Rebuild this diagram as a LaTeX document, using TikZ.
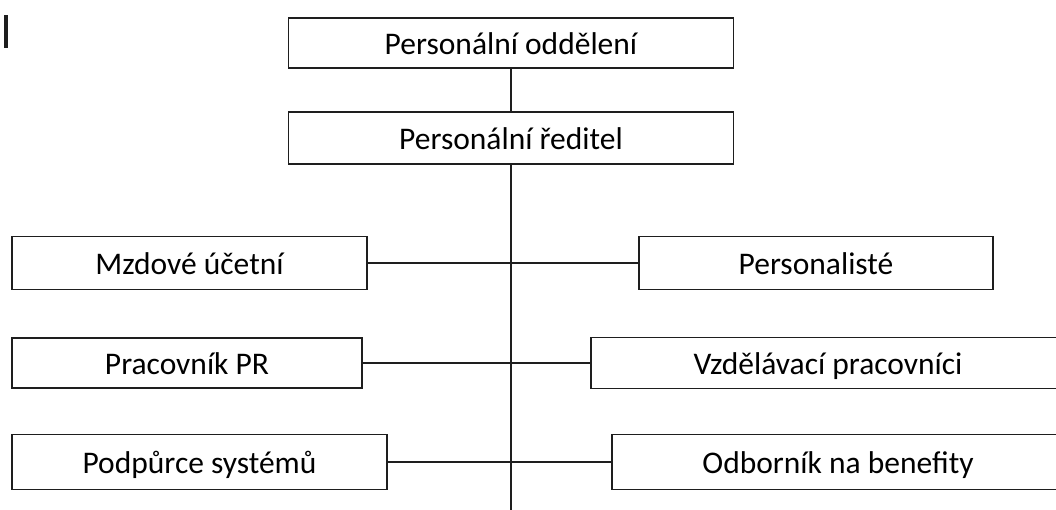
\documentclass[tikz,border=0pt]{standalone}
\usepackage{fontspec}
\setmainfont{Carlito}
\definecolor{frame}{HTML}{1e1e1e}

\begin{document}
\begin{tikzpicture}[x=1pt,y=-1pt,
	unit/.style={draw=frame,line width=1.5pt,inner sep=0pt,minimum height=52pt,
		text height=23pt,text depth=0pt,font=\fontsize{31.5}{36}\selectfont},
	link/.style={draw=frame,line width=1.2pt}]
		\clip (0,0) rectangle (1056,509);
		\fill[frame] (4,15) rectangle (8,48);
		
		\node[unit,minimum width=445pt,minimum height=50pt] (dept) at (511,43) {Personální oddělení};
		\node[unit,minimum width=445pt] (head) at (511,138) {Personální ředitel};
		
		\node[unit,minimum width=355pt,minimum height=53pt] (wage) at (189.5,263) {Mzdové účetní};
		\node[unit,minimum width=354pt,minimum height=53pt] (staff) at (816,263) {Personalisté};
		\node[unit,minimum width=350pt,minimum height=50pt] (pr) at (187,363) {Pracovník PR};
		\node[unit,minimum width=474pt,minimum height=51pt] (edu) at (828,363) {Vzdělávací pracovníci};
		\node[unit,minimum width=375pt,minimum height=55pt] (sys) at (199.5,462) {Podpůrce systémů};
		\node[unit,minimum width=452pt,minimum height=55pt] (bnf) at (838,462) {Odborník na benefity};
		
		\coordinate (end) at (511,515);
		\draw[link] (dept) -- (head);
		\draw[link] (head) -- (end);
		\draw[link] (wage) -- (staff);
		\draw[link] (pr) -- (edu);
		\draw[link] (sys) -- (bnf);
	\end{tikzpicture}
\end{document}
